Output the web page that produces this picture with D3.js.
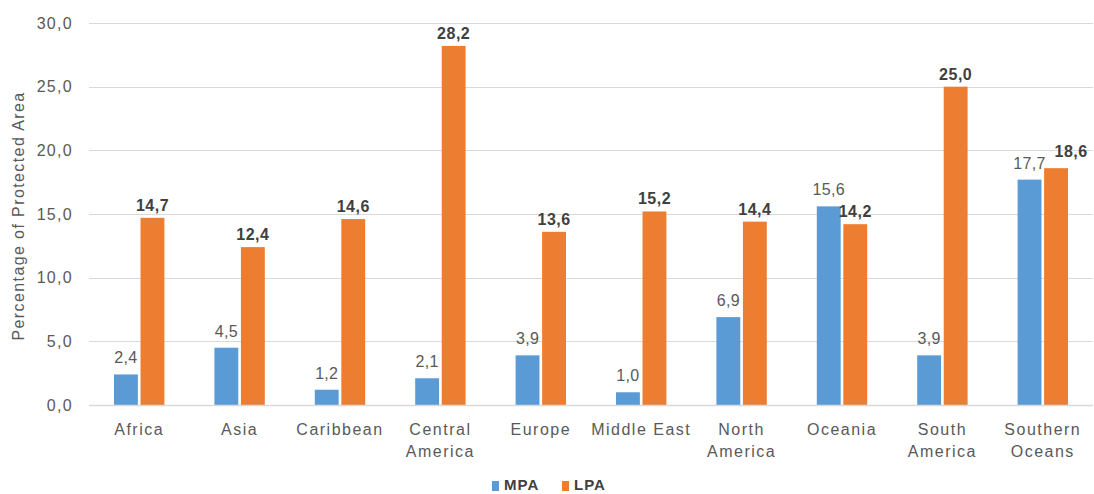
<!DOCTYPE html>
<html>
<head>
<meta charset="utf-8">
<script src="https://cdn.jsdelivr.net/npm/d3@7"></script>
<style>
  html, body { margin: 0; padding: 0; background: #fff; overflow: hidden; }
  svg { display: block; font-family: "Liberation Sans", Arial, sans-serif; }
</style>
</head>
<body>
<div id="chart"></div>
<script>
// Regions and values (percentage of protected area)
const categories = [
  ['Africa'], ['Asia'], ['Caribbean'], ['Central', 'America'], ['Europe'],
  ['Middle East'], ['North', 'America'], ['Oceania'], ['South', 'America'], ['Southern', 'Oceans']
];
const mpaValues = [2.4, 4.5, 1.2, 2.1, 3.9, 1.0, 6.9, 15.6, 3.9, 17.7];
const lpaValues = [14.7, 12.4, 14.6, 28.2, 13.6, 15.2, 14.4, 14.2, 25.0, 18.6];
const seriesNames = ['MPA', 'LPA'];
const yTicks = [0, 5, 10, 15, 20, 25, 30];

const width = 1094, height = 494;
const margin = { top: 23, right: 1, bottom: 89, left: 89 };
const colors = { MPA: '#5B9BD5', LPA: '#ED7D31' };
const fmt = v => d3.format('.1f')(v).replace('.', ',');

const svg = d3.select('#chart').append('svg')
  .attr('width', width)
  .attr('height', height);

const x = d3.scaleBand()
  .domain(d3.range(categories.length))
  .range([margin.left, width - margin.right])
  .paddingInner(0)
  .paddingOuter(0);

const x1 = d3.scaleBand()
  .domain(seriesNames)
  .range([25, x.bandwidth() - 25])
  .paddingInner(0.1);

const y = d3.scaleLinear()
  .domain([0, 30])
  .range([height - margin.bottom, margin.top]);

// Gridlines
svg.append('g')
  .selectAll('line')
  .data(yTicks)
  .join('line')
  .attr('x1', margin.left)
  .attr('x2', width - margin.right)
  .attr('y1', d => Math.round(y(d)) + 0.5)
  .attr('y2', d => Math.round(y(d)) + 0.5)
  .attr('stroke', '#d9d9d9')
  .attr('stroke-width', 1);

// Y axis labels
const yAxis = svg.append('g')
  .attr('transform', `translate(${margin.left},0)`)
  .call(d3.axisLeft(y).tickValues(yTicks).tickFormat(fmt).tickSize(0).tickPadding(16));
yAxis.select('.domain').remove();
yAxis.selectAll('text')
  .attr('fill', '#595959')
  .style('font-size', '16px')
  .style('letter-spacing', '1.3px')
  .style('font-family', '"Liberation Sans", Arial, sans-serif');

// Axis title
svg.append('text')
  .attr('transform', `translate(24,${(90 + 342) / 2}) rotate(-90)`)
  .attr('text-anchor', 'middle')
  .attr('fill', '#595959')
  .style('font-size', '16px')
  .style('letter-spacing', '1.4px')
  .text('Percentage of  Protected Area');

// Bars
const rows = categories.map((c, i) => ({ i, MPA: mpaValues[i], LPA: lpaValues[i] }));
const groups = svg.append('g')
  .selectAll('g')
  .data(rows)
  .join('g')
  .attr('transform', d => `translate(${x(d.i)},0)`);

groups.selectAll('rect')
  .data(d => seriesNames.map(s => ({ s, v: d[s] })))
  .join('rect')
  .attr('x', d => x1(d.s))
  .attr('width', x1.bandwidth())
  .attr('y', d => y(d.v))
  .attr('height', d => y(0) - y(d.v))
  .attr('fill', d => colors[d.s]);

// Value labels; an LPA label that would collide with its MPA neighbour is nudged up/right
const labelPos = (d, row) => {
  const gap = d.s === 'LPA' ? 7 : 11;
  let lx = x1(d.s) + x1.bandwidth() / 2;
  let ly = y(d.v) - gap;
  if (d.s === 'LPA') {
    const mpaY = y(row.MPA) - 11;
    if (Math.abs(mpaY - ly) < 14) { lx += 15; ly = mpaY - 12; }
  }
  return [lx, ly];
};

groups.selectAll('text.val')
  .data(row => seriesNames.map(s => ({ s, v: row[s], row })))
  .join('text')
  .attr('class', 'val')
  .attr('x', d => labelPos(d, d.row)[0])
  .attr('y', d => labelPos(d, d.row)[1])
  .attr('text-anchor', 'middle')
  .attr('fill', d => d.s === 'LPA' ? '#404040' : '#595959')
  .style('font-size', '16px')
  .style('letter-spacing', d => d.s === 'LPA' ? '0.5px' : '0.3px')
  .style('font-weight', d => d.s === 'LPA' ? 'bold' : 'normal')
  .text(d => fmt(d.v));

// Baseline
svg.append('line')
  .attr('x1', margin.left)
  .attr('x2', width - margin.right)
  .attr('y1', Math.round(y(0)) + 0.5)
  .attr('y2', Math.round(y(0)) + 0.5)
  .attr('stroke', '#d9d9d9')
  .attr('stroke-width', 1.5);

// Category labels
const catLabels = svg.append('g')
  .selectAll('text')
  .data(categories)
  .join('text')
  .attr('x', (d, i) => x(i) + x.bandwidth() / 2)
  .attr('y', y(0) + 30)
  .attr('text-anchor', 'middle')
  .attr('fill', '#595959')
  .style('font-size', '16px')
  .style('letter-spacing', '1.5px');
catLabels.selectAll('tspan')
  .data(d => d)
  .join('tspan')
  .attr('x', function () { return d3.select(this.parentNode).attr('x'); })
  .attr('dy', (d, i) => i === 0 ? 0 : 22)
  .text(d => d);

// Legend at the bottom edge
const legend = svg.append('g').attr('transform', 'translate(492,0)');
const legendX = [0, 70];
seriesNames.forEach((s, i) => {
  legend.append('rect')
    .attr('x', legendX[i])
    .attr('y', 481)
    .attr('width', 7)
    .attr('height', 10)
    .attr('fill', colors[s]);
  legend.append('text')
    .attr('x', legendX[i] + 12)
    .attr('y', 490)
    .attr('fill', '#404040')
    .style('font-size', '15px')
    .style('letter-spacing', '1px')
    .style('font-weight', 'bold')
    .text(s);
});
</script>
</body>
</html>
